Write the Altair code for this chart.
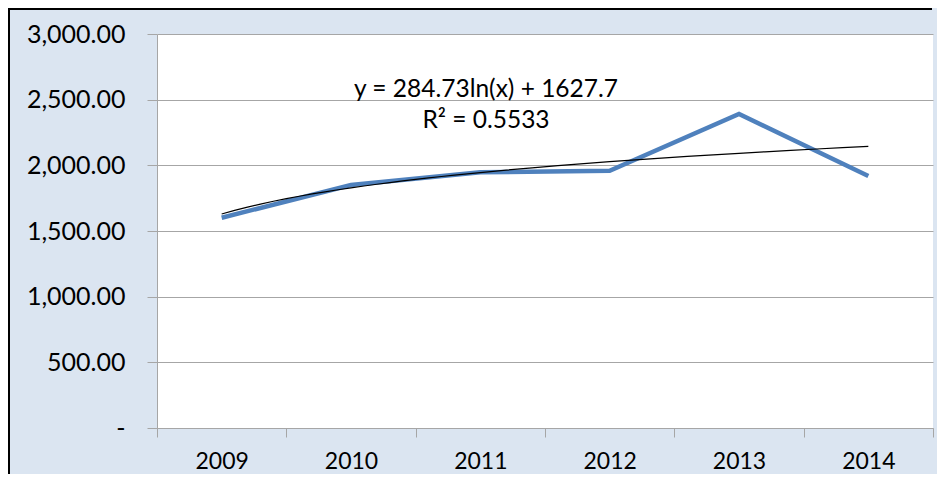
import altair as alt
import pandas as pd

years = ["2009", "2010", "2011", "2012", "2013", "2014"]
values = [1601, 1850, 1947, 1959, 2391, 1919]
index = [1, 2, 3, 4, 5, 6]
equation_lines = ["y = 284.73ln(x) + 1627.7", "R² = 0.5533"]
y_ticks = [0, 500, 1000, 1500, 2000, 2500, 3000]

df = pd.DataFrame({"year": years, "value": values, "idx": index})

FONT = "Lato"
GRID = "#a6a6a6"

y_axis = alt.Axis(
    values=y_ticks,
    labelExpr="datum.value == 0 ? '-\u00a0\u00a0\u00a0' : format(datum.value, ',.2f')",
    title=None,
    grid=True,
    gridColor=GRID,
    domainColor=GRID,
    tickColor=GRID,
    tickSize=10,
    labelPadding=22,
    labelFont=FONT,
    labelFontSize=25,
    labelColor="#000000",
)
y_scale = alt.Scale(domain=[0, 3000], nice=False, zero=True)

base = alt.Chart(df)

blue = base.mark_line(color="#4f81bd", strokeWidth=4.5).encode(
    x=alt.X(
        "year:O",
        bandPosition=0.5,
        scale=alt.Scale(type="band", paddingInner=0, paddingOuter=0),
        axis=alt.Axis(
            title=None,
            labelAngle=0,
            tickBand="extent",
            grid=False,
            domainColor=GRID,
            tickColor=GRID,
            tickSize=9,
            labelPadding=13,
            labelFont=FONT,
            labelFontSize=23,
            labelColor="#000000",
        ),
    ),
    y=alt.Y("value:Q", scale=y_scale, axis=y_axis),
)

trend = (
    base.transform_regression("idx", "value", method="log", extent=[1, 6])
    .mark_line(color="#000000", strokeWidth=1.2)
    .encode(
        x=alt.X("idx:Q", scale=alt.Scale(domain=[0.5, 6.5], nice=False, zero=False), axis=None),
        y=alt.Y("value:Q", scale=y_scale, axis=y_axis),
    )
)

label = alt.Chart(pd.DataFrame({"t": [0]})).mark_text(
    text=equation_lines,
    font=FONT,
    fontSize=24.5,
    color="#000000",
    align="center",
    baseline="alphabetic",
    lineHeight=31,
).encode(x=alt.value(329), y=alt.value(63))

one = pd.DataFrame({"t": [0]})
left_edge = alt.Chart(one).mark_rule(color="#000000", strokeWidth=2, clip=False).encode(
    x=alt.value(-148), y=alt.value(-25), y2=alt.value(460)
)
top_edge = alt.Chart(one).mark_rule(color="#000000", strokeWidth=2, clip=False).encode(
    x=alt.value(-149), x2=alt.value(775), y=alt.value(-25)
)

chart = (
    alt.layer(blue, trend, label, left_edge, top_edge)
    .resolve_scale(x="independent")
    .properties(
        width=776,
        height=394,
        autosize=alt.AutoSizeParams(type="none"),
        padding={"left": 149, "top": 26, "right": 4, "bottom": 46},
        background="#dbe5f1",
    )
    .configure_view(fill="#ffffff", stroke=None)
)

chart.save("out.html", embed_options={"renderer": "svg", "actions": False})
